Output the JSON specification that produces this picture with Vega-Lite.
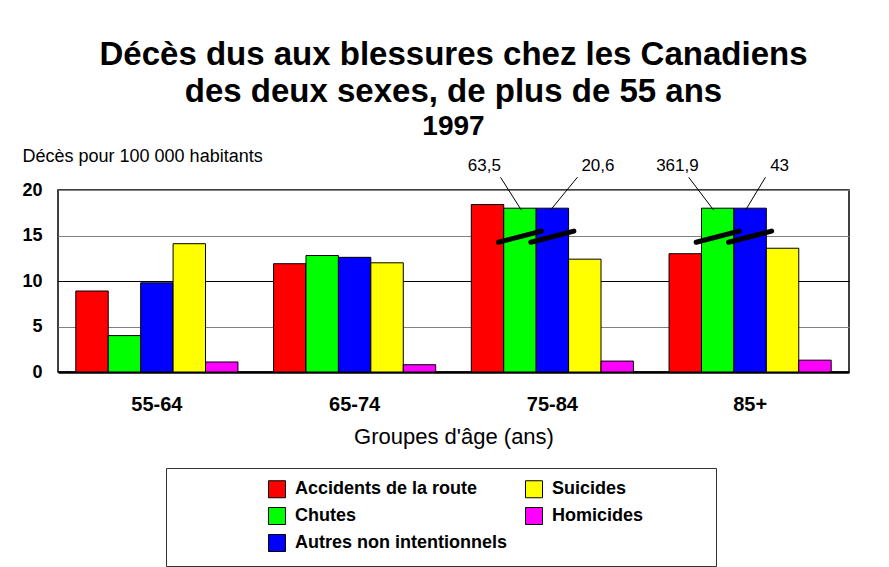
{
  "$schema": "https://vega.github.io/schema/vega-lite/v6.json",
  "width": 791,
  "height": 182,
  "autosize": {"type": "none"},
  "padding": {"left": 58, "top": 190, "right": 40, "bottom": 195},
  "background": "white",
  "config": {
    "font": "Liberation Sans",
    "view": {"stroke": "black", "strokeWidth": 1.5}
  },
  "title": {
    "text": ["Décès dus aux blessures chez les Canadiens", "des deux sexes, de plus de 55 ans"],
    "subtitle": "1997",
    "fontSize": 33,
    "fontWeight": "bold",
    "color": "black",
    "lineHeight": 37,
    "subtitleFontSize": 28,
    "subtitleFontWeight": "bold",
    "subtitleColor": "black",
    "subtitlePadding": 4,
    "anchor": "middle",
    "offset": 6
  },
  "data": {
    "values": [
      {"groupe": "55-64", "cause": "Accidents de la route", "valeur": 8.9},
      {"groupe": "55-64", "cause": "Chutes", "valeur": 4.0},
      {"groupe": "55-64", "cause": "Autres non intentionnels", "valeur": 9.8},
      {"groupe": "55-64", "cause": "Suicides", "valeur": 14.1},
      {"groupe": "55-64", "cause": "Homicides", "valeur": 1.1},
      {"groupe": "65-74", "cause": "Accidents de la route", "valeur": 11.9},
      {"groupe": "65-74", "cause": "Chutes", "valeur": 12.8},
      {"groupe": "65-74", "cause": "Autres non intentionnels", "valeur": 12.6},
      {"groupe": "65-74", "cause": "Suicides", "valeur": 12.0},
      {"groupe": "65-74", "cause": "Homicides", "valeur": 0.8},
      {"groupe": "75-84", "cause": "Accidents de la route", "valeur": 18.4},
      {"groupe": "75-84", "cause": "Chutes", "valeur": 18, "etiquette": "63,5"},
      {"groupe": "75-84", "cause": "Autres non intentionnels", "valeur": 18, "etiquette": "20,6"},
      {"groupe": "75-84", "cause": "Suicides", "valeur": 12.4},
      {"groupe": "75-84", "cause": "Homicides", "valeur": 1.2},
      {"groupe": "85+", "cause": "Accidents de la route", "valeur": 13.0},
      {"groupe": "85+", "cause": "Chutes", "valeur": 18, "etiquette": "361,9"},
      {"groupe": "85+", "cause": "Autres non intentionnels", "valeur": 18, "etiquette": "43"},
      {"groupe": "85+", "cause": "Suicides", "valeur": 13.6},
      {"groupe": "85+", "cause": "Homicides", "valeur": 1.3}
    ]
  },
  "encoding": {
    "x": {
      "field": "groupe",
      "type": "nominal",
      "scale": {"domain": ["55-64", "65-74", "75-84", "85+"], "paddingInner": 0.18, "paddingOuter": 0.09},
      "axis": {
        "title": "Groupes d'âge (ans)",
        "titleFontSize": 22,
        "titleFontWeight": "normal",
        "titleColor": "black",
        "titlePadding": 12,
        "labelAngle": 0,
        "labelFontSize": 20,
        "labelFontWeight": "bold",
        "labelColor": "black",
        "labelPadding": 22,
        "ticks": false,
        "domain": true,
        "domainColor": "black",
        "domainWidth": 2.5
      }
    },
    "xOffset": {
      "field": "cause",
      "type": "nominal",
      "scale": {"domain": ["Accidents de la route", "Chutes", "Autres non intentionnels", "Suicides", "Homicides"]}
    }
  },
  "layer": [
    {
      "mark": {"type": "bar", "stroke": "black", "strokeWidth": 1},
      "encoding": {
        "y": {
          "field": "valeur",
          "type": "quantitative",
          "scale": {"domain": [0, 20], "nice": false},
          "axis": {
            "title": "Décès pour 100 000 habitants",
            "titleAngle": 0,
            "titleAlign": "left",
            "titleBaseline": "alphabetic",
            "titleX": -36,
            "titleY": -29,
            "titleFontSize": 18,
            "titleFontWeight": "normal",
            "titleColor": "black",
            "values": [0, 5, 10, 15, 20],
            "labelFontSize": 18,
            "labelFontWeight": "bold",
            "labelColor": "black",
            "labelPadding": 16,
            "ticks": false,
            "domain": false,
            "grid": true,
            "gridColor": {"condition": {"test": "datum.value === 10", "value": "black"}, "value": "#808080"},
            "gridOpacity": 1
          }
        },
        "color": {
          "field": "cause",
          "type": "nominal",
          "scale": {
            "domain": ["Accidents de la route", "Suicides", "Chutes", "Homicides", "Autres non intentionnels"],
            "range": ["#ff0000", "#ffff00", "#00ff00", "#ff00ff", "#0000ff"]
          },
          "legend": {
            "orient": "none",
            "legendX": 108,
            "legendY": 278,
            "columns": 2,
            "direction": "horizontal",
            "title": "\u200b\u00a0\u00a0\u00a0\u00a0\u00a0\u00a0\u00a0\u00a0\u00a0\u00a0\u00a0\u00a0\u00a0\u00a0\u00a0\u00a0\u200b",
            "titleOrient": "left",
            "titleFontSize": 18,
            "titleFontWeight": "normal",
            "titlePadding": 9,
            "labelExpr": "datum.label === 'Homicides' ? datum.label + '\u00a0\u00a0\u00a0\u00a0\u00a0\u00a0\u00a0\u00a0\u00a0\u00a0\u00a0\u00a0\u200b' : datum.label",
            "labelLimit": 0,
            "labelFontSize": 18,
            "labelFontWeight": "bold",
            "labelColor": "black",
            "labelOffset": 9,
            "symbolType": "square",
            "symbolSize": 289,
            "symbolStrokeColor": "black",
            "symbolStrokeWidth": 1,
            "symbolOpacity": 1,
            "rowPadding": 5,
            "columnPadding": 15,
            "padding": 12,
            "strokeColor": "#333333",
            "fillColor": "white"
          }
        }
      }
    },
    {
      "transform": [{"filter": "datum.etiquette"}],
      "mark": {"type": "point", "shape": "M -1 0.26 L 1 -0.26", "size": 1849, "filled": false, "stroke": "black", "strokeWidth": 5, "strokeCap": "round", "opacity": 1},
      "encoding": {"y": {"datum": 14.87, "type": "quantitative"}}
    },
    {
      "transform": [{"filter": "datum.groupe === '75-84' && datum.cause === 'Chutes'"}],
      "mark": {"type": "point", "shape": "M -1.18 -1 L 0.09 1", "size": 1089, "filled": false, "stroke": "black", "strokeWidth": 1, "opacity": 1},
      "encoding": {"y": {"datum": 19.59, "type": "quantitative"}}
    },
    {
      "transform": [{"filter": "datum.groupe === '75-84' && datum.cause === 'Autres non intentionnels'"}],
      "mark": {"type": "point", "shape": "M 1.52 -1 L -0.12 1", "size": 1089, "filled": false, "stroke": "black", "strokeWidth": 1, "opacity": 1},
      "encoding": {"y": {"datum": 19.59, "type": "quantitative"}}
    },
    {
      "transform": [{"filter": "datum.groupe === '85+' && datum.cause === 'Chutes'"}],
      "mark": {"type": "point", "shape": "M -1.76 -1 L -0.24 1", "size": 1089, "filled": false, "stroke": "black", "strokeWidth": 1, "opacity": 1},
      "encoding": {"y": {"datum": 19.59, "type": "quantitative"}}
    },
    {
      "transform": [{"filter": "datum.groupe === '85+' && datum.cause === 'Autres non intentionnels'"}],
      "mark": {"type": "point", "shape": "M 0.93 -1 L -0.28 1", "size": 1089, "filled": false, "stroke": "black", "strokeWidth": 1, "opacity": 1},
      "encoding": {"y": {"datum": 19.59, "type": "quantitative"}}
    },
    {
      "transform": [{"filter": "datum.etiquette && datum.cause === 'Chutes'"}],
      "mark": {"type": "text", "align": "right", "baseline": "alphabetic", "dx": -19, "fontSize": 17, "color": "black"},
      "encoding": {"y": {"datum": 22.1, "type": "quantitative"}, "text": {"field": "etiquette"}}
    },
    {
      "transform": [{"filter": "datum.groupe === '75-84' && datum.cause === 'Autres non intentionnels'"}],
      "mark": {"type": "text", "align": "left", "baseline": "alphabetic", "dx": 29, "fontSize": 17, "color": "black"},
      "encoding": {"y": {"datum": 22.1, "type": "quantitative"}, "text": {"field": "etiquette"}}
    },
    {
      "transform": [{"filter": "datum.groupe === '85+' && datum.cause === 'Autres non intentionnels'"}],
      "mark": {"type": "text", "align": "left", "baseline": "alphabetic", "dx": 20, "fontSize": 17, "color": "black"},
      "encoding": {"y": {"datum": 22.1, "type": "quantitative"}, "text": {"field": "etiquette"}}
    }
  ]
}
